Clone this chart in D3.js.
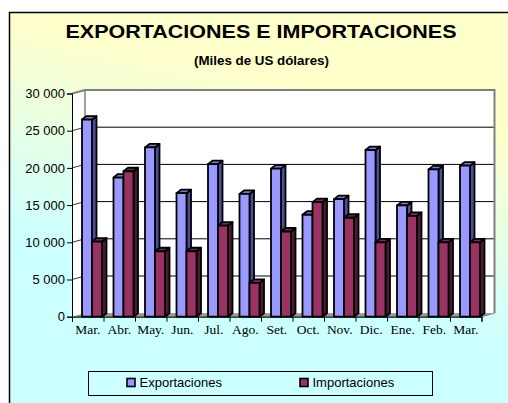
<!DOCTYPE html>
<html>
<head>
<meta charset="utf-8">
<script src="https://cdn.jsdelivr.net/npm/d3@7"></script>
<style>
  body { margin: 0; background: white; }
  svg { display: block; }
</style>
</head>
<body>
<div id="chart"></div>
<script>
// months (the last "Mar." is a second March, so bars are keyed by index)
var months = ["Mar.", "Abr.", "May.", "Jun.", "Jul.", "Ago.", "Set.", "Oct.", "Nov.", "Dic.", "Ene.", "Feb.", "Mar."];
var exportaciones = [26500, 18700, 22750, 16600, 20500, 16500, 19900, 13700, 15800, 22400, 14950, 19800, 20300];
var importaciones = [10100, 19550, 8800, 8800, 12250, 4550, 11450, 15400, 13300, 10000, 13550, 10000, 10000];
var yTicks = [0, 5000, 10000, 15000, 20000, 25000, 30000];
var seriesNames = ["Exportaciones", "Importaciones"];

var width = 508, height = 403;

// 3d look: depth of the walls and of each bar
var wallDx = 13, wallDy = 3.5;
var barDx = 4.5, barDy = 3.5;

var colors = {
    front: ["#9999ff", "#993366"],
    side: ["#4d4d99", "#4d1a33"],
    top: ["#7a7acc", "#7a2952"]
};

var svg = d3.select("#chart")
    .append("svg")
    .attr("width", width)
    .attr("height", height);

var defs = svg.append("defs");
var grad = defs.append("linearGradient")
    .attr("id", "bg")
    .attr("gradientUnits", "userSpaceOnUse")
    .attr("x1", 320).attr("y1", 90)
    .attr("x2", 275).attr("y2", 295);
grad.append("stop").attr("offset", "0").attr("stop-color", "#ffffcc");
grad.append("stop").attr("offset", "1").attr("stop-color", "#ccffff");

svg.append("rect")
    .attr("width", "100%")
    .attr("height", "100%")
    .attr("fill", "white");

// chart area (runs off the right and bottom of the picture)
svg.append("rect")
    .attr("x", 9.5).attr("y", 12.5)
    .attr("width", 600).attr("height", 500)
    .attr("fill", "url(#bg)")
    .attr("stroke", "black")
    .attr("stroke-width", 1.5);

svg.append("text")
    .attr("x", 261).attr("y", 37.5)
    .attr("text-anchor", "middle")
    .attr("textLength", 391)
    .attr("lengthAdjust", "spacingAndGlyphs")
    .style("font", "bold 19px 'Liberation Sans', Arial, sans-serif")
    .text("EXPORTACIONES E IMPORTACIONES");

svg.append("text")
    .attr("x", 261.5).attr("y", 65)
    .attr("text-anchor", "middle")
    .attr("textLength", 135)
    .attr("lengthAdjust", "spacingAndGlyphs")
    .style("font", "bold 12px 'Liberation Sans', Arial, sans-serif")
    .text("(Miles de US dólares)");

var x0 = 72, x1 = 481.5;
var y = d3.scaleLinear().domain([0, 30000]).range([316.7, 93.5]);
var x = d3.scaleBand().domain(d3.range(months.length)).range([x0, x1]).padding(0);
var xEdges = d3.scaleLinear().domain([0, months.length]).range([x0, x1]);

var yb = y(0), yt = y(30000);

// floor
svg.append("path")
    .attr("d", "M" + x0 + "," + yb + "L" + x1 + "," + yb + "L" + (x1 + wallDx) + "," + (yb - wallDy) +
        "L" + (x0 + wallDx) + "," + (yb - wallDy) + "Z")
    .attr("fill", "#999999")
    .attr("stroke", "#808080");

// left side wall
svg.append("path")
    .attr("d", "M" + x0 + "," + yb + "L" + x0 + "," + yt + "L" + (x0 + wallDx) + "," + (yt - wallDy) +
        "L" + (x0 + wallDx) + "," + (yb - wallDy) + "Z")
    .attr("fill", "white")
    .attr("stroke", "none");

// back wall
svg.append("rect")
    .attr("x", x0 + wallDx).attr("y", yt - wallDy)
    .attr("width", x1 - x0).attr("height", yb - yt)
    .attr("fill", "white");

var grid = svg.append("g");
grid.selectAll("line.back")
    .data(yTicks.filter(function(d) { return d > 0 && d < 30000; }))
    .enter().append("line")
    .attr("x1", x0 + wallDx).attr("x2", x1 + wallDx)
    .attr("y1", function(d) { return y(d) - wallDy; })
    .attr("y2", function(d) { return y(d) - wallDy; })
    .attr("stroke", "black");
grid.selectAll("line.side")
    .data(yTicks.filter(function(d) { return d > 0 && d < 30000; }))
    .enter().append("line")
    .attr("x1", x0).attr("x2", x0 + wallDx)
    .attr("y1", function(d) { return y(d); })
    .attr("y2", function(d) { return y(d) - wallDy; })
    .attr("stroke", "black")
    .attr("stroke-width", 0.8);

// gray wall edges
svg.append("path")
    .attr("d", "M" + x0 + "," + yt + "L" + (x0 + wallDx) + "," + (yt - wallDy) +
        "L" + (x1 + wallDx) + "," + (yt - wallDy) + "L" + (x1 + wallDx) + "," + (yb - wallDy))
    .attr("fill", "none")
    .attr("stroke", "#808080")
    .attr("stroke-width", 2);
svg.append("line")
    .attr("x1", x0 + wallDx).attr("x2", x0 + wallDx)
    .attr("y1", yt - wallDy).attr("y2", yb - wallDy)
    .attr("stroke", "#808080")
    .attr("stroke-width", 1.5);

// bars
function bar(g, xl, w, v, s) {
    var xr = xl + w, top = y(v);
    g.append("path")
        .attr("d", "M" + xr + "," + top + "L" + (xr + barDx) + "," + (top - barDy) + "L" + (xr + barDx) + "," + (yb - barDy) +
            "L" + xr + "," + yb + "Z")
        .attr("fill", colors.side[s]);
    g.append("path")
        .attr("d", "M" + xl + "," + top + "L" + (xl + barDx) + "," + (top - barDy) + "L" + (xr + barDx) + "," + (top - barDy) +
            "L" + xr + "," + top + "Z")
        .attr("fill", colors.top[s]);
    g.append("rect")
        .attr("x", xl).attr("y", top)
        .attr("width", w).attr("height", yb - top)
        .attr("fill", colors.front[s]);
}

var barW = 10;
var bars = svg.append("g")
    .attr("stroke", "black")
    .attr("stroke-width", 1.8)
    .attr("stroke-linejoin", "round");
months.forEach(function(m, i) {
    var g = bars.append("g");
    bar(g, x(i) + 10, barW, exportaciones[i], 0);
    bar(g, x(i) + 10 + barW, barW, importaciones[i], 1);
});

// axes
var yAxis = svg.append("g")
    .attr("transform", "translate(" + x0 + ",0)")
    .call(d3.axisLeft(y).tickValues(yTicks).tickSize(5).tickPadding(2)
        .tickFormat(function(d) { return d3.format(",")(d).replace(",", " "); }));
yAxis.selectAll("text")
    .style("font", "13px 'Liberation Sans', Arial, sans-serif")
    .attr("fill", "black");

svg.append("g")
    .attr("transform", "translate(0," + yb + ")")
    .call(d3.axisBottom(xEdges).tickValues(d3.range(months.length + 1)).tickSize(5).tickFormat(""));

var xAxis = svg.append("g")
    .attr("transform", "translate(0," + yb + ")")
    .call(d3.axisBottom(x).tickSize(0).tickPadding(8).tickFormat(function(i) { return months[i]; }));
xAxis.select(".domain").remove();
xAxis.selectAll("text")
    .style("font", "13.5px 'Liberation Serif', 'Times New Roman', serif")
    .attr("fill", "black");

// legend
var legend = svg.append("g");
legend.append("rect")
    .attr("x", 88.5).attr("y", 371.5)
    .attr("width", 344).attr("height", 24)
    .attr("fill", "none")
    .attr("stroke", "black");
var legendX = [127, 300];
seriesNames.forEach(function(name, i) {
    legend.append("rect")
        .attr("x", legendX[i]).attr("y", 378.5)
        .attr("width", 8).attr("height", 8)
        .attr("fill", colors.front[i])
        .attr("stroke", "black")
        .attr("stroke-width", 1.6);
    legend.append("text")
        .attr("x", legendX[i] + 12.5).attr("y", 387)
        .style("font", "13px 'Liberation Sans', Arial, sans-serif")
        .text(name);
});
</script>
</body>
</html>
